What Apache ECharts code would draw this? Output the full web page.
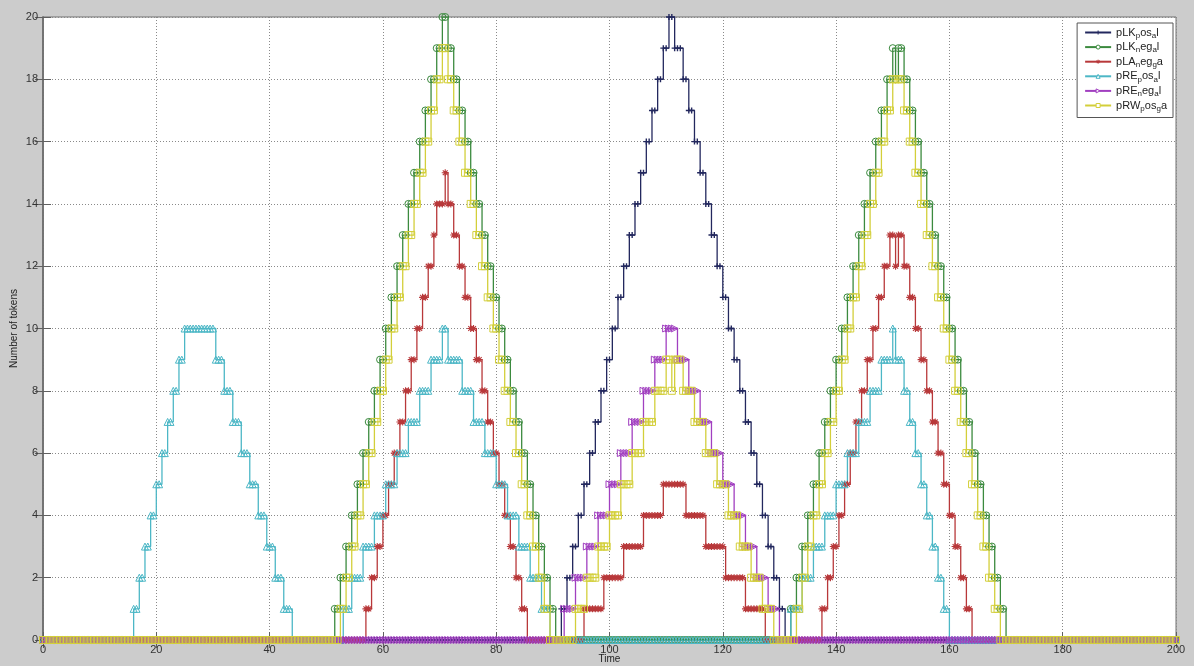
<!DOCTYPE html>
<html>
<head>
<meta charset="utf-8">
<script src="https://cdn.jsdelivr.net/npm/echarts@6.0.0/dist/echarts.min.js"></script>
<style>
  html, body { margin: 0; padding: 0; background: #cccccc; }
  #chart { width: 1194px; height: 666px; }
</style>
</head>
<body>
<div id="chart"></div>
<script>
// Token counts of each place over simulated time.
// Each list holds [time, tokens] change points; the count holds until the next change.
const timeStep = 0.5;
const timeEnd = 200;
const xTicks = { min: 0, max: 200, interval: 20 };
const yTicks = { min: 0, max: 20, interval: 2 };

const seriesNames = ['pLK_pos_al', 'pLK_neg_al', 'pLA_neg_ga', 'pRE_pos_al', 'pRE_neg_al', 'pRW_pos_ga'];

const pLKposChanges = [
  [0, 0],
  [91.5, 1], [92.5, 2], [93.5, 3], [94.5, 4], [95.5, 5], [96.5, 6], [97.5, 7], [98.5, 8], [99.5, 9], [100.5, 10],
  [101.5, 11], [102.5, 12], [103.5, 13], [104.5, 14], [105.5, 15], [106.5, 16], [107.5, 17], [108.5, 18], [109.5, 19], [110.5, 20],
  [111.5, 19], [113, 18], [114, 17], [115, 16], [116, 15], [117, 14], [118, 13], [119, 12], [120, 11], [121, 10],
  [122, 9], [123, 8], [124, 7], [125, 6], [126, 5], [127, 4], [128, 3], [129, 2], [130, 1], [131, 0]
];

const pLKnegChanges = [
  [0, 0],
  [51.5, 1], [52.5, 2], [53.5, 3], [54.5, 4], [55.5, 5], [56.5, 6], [57.5, 7], [58.5, 8], [59.5, 9], [60.5, 10],
  [61.5, 11], [62.5, 12], [63.5, 13], [64.5, 14], [65.5, 15], [66.5, 16], [67.5, 17], [68.5, 18], [69.5, 19], [70.5, 20],
  [71.5, 19], [72.5, 18], [73.5, 17], [74.5, 16], [75.5, 15], [76.5, 14], [77.5, 13], [78.5, 12], [79.5, 11], [80.5, 10],
  [81.5, 9], [82.5, 8], [83.5, 7], [84.5, 6], [85.5, 5], [86.5, 4], [87.5, 3], [88.5, 2], [89.5, 1], [90.5, 0],
  [132, 1], [133, 2], [134, 3], [135, 4], [136, 5], [137, 6], [138, 7], [139, 8], [140, 9], [141, 10],
  [142, 11], [143, 12], [144, 13], [145, 14], [146, 15], [147, 16], [148, 17], [149, 18], [150, 19], [150.5, 18], [151, 19],
  [152, 18], [153, 17], [154, 16], [155, 15], [156, 14], [157, 13], [158, 12], [159, 11], [160, 10],
  [161, 9], [162, 8], [163, 7], [164, 6], [165, 5], [166, 4], [167, 3], [168, 2], [169, 1], [170, 0]
];

const pLAnegChanges = [
  [0, 0],
  [57, 1], [58, 2], [59, 3], [60, 4], [61, 5], [62, 6], [63, 7], [64, 8], [65, 9], [66, 10],
  [67, 11], [68, 12], [69, 13], [69.5, 14], [71, 15], [71.5, 14], [72.5, 13], [73.5, 12], [74.5, 11], [75.5, 10],
  [76.5, 9], [77.5, 8], [78.5, 7], [79.5, 6], [80.5, 5], [81.5, 4], [82.5, 3], [83.5, 2], [84.5, 1], [85.5, 0],
  [95.5, 1], [99, 2], [102.5, 3], [106, 4], [109.5, 5], [113.5, 4], [117, 3], [120.5, 2], [124, 1], [127.5, 0],
  [137.5, 1], [138.5, 2], [139.5, 3], [140.5, 4], [141.5, 5], [142.5, 6], [143.5, 7], [144.5, 8], [145.5, 9], [146.5, 10],
  [147.5, 11], [148.5, 12], [149.5, 13], [150.5, 12], [151, 13], [152, 12], [153, 11], [154, 10],
  [155, 9], [156, 8], [157, 7], [158, 6], [159, 5], [160, 4], [161, 3], [162, 2], [163, 1], [164, 0]
];

const pREposChanges = [
  [0, 0],
  [16, 1], [17, 2], [18, 3], [19, 4], [20, 5], [21, 6], [22, 7], [23, 8], [24, 9], [25, 10],
  [30.5, 9], [32, 8], [33.5, 7], [35, 6], [36.5, 5], [38, 4], [39.5, 3], [41, 2], [42.5, 1], [44, 0],
  [53, 1], [54.5, 2], [56.5, 3], [58.5, 4], [60.5, 5], [62.5, 6], [64.5, 7], [66.5, 8], [68.5, 9], [70.5, 10],
  [71.5, 9], [74, 8], [76, 7], [78, 6], [80, 5], [82, 4], [84, 3], [86, 2], [88, 1], [89.5, 0],
  [132, 1], [134, 2], [136, 3], [138, 4], [140, 5], [142, 6], [144, 7], [146, 8], [148, 9], [150, 10],
  [150.5, 9], [152, 8], [153, 7], [154, 6], [155, 5], [156, 4], [157, 3], [158, 2], [159, 1], [160, 0]
];

const pREnegChanges = [
  [0, 0],
  [92, 1], [94, 2], [96, 3], [98, 4], [100, 5], [102, 6], [104, 7], [106, 8], [108, 9], [110, 10],
  [112, 9], [114, 8], [116, 7], [118, 6], [120, 5], [122, 4], [124, 3], [126, 2], [128, 1], [130, 0]
];

const pRWposChanges = [
  [0, 0],
  [52.5, 1], [53.5, 2], [54.5, 3], [55.5, 4], [56.5, 5], [57.5, 6], [58.5, 7], [59.5, 8], [60.5, 9], [61.5, 10],
  [62.5, 11], [63.5, 12], [64.5, 13], [65.5, 14], [66.5, 15], [67.5, 16], [68.5, 17], [69.5, 18], [70.5, 19],
  [71.5, 18], [72.5, 17], [73.5, 16], [74.5, 15], [75.5, 14], [76.5, 13], [77.5, 12], [78.5, 11], [79.5, 10],
  [80.5, 9], [81.5, 8], [82.5, 7], [83.5, 6], [84.5, 5], [85.5, 4], [86.5, 3], [87.5, 2], [88.5, 1], [89.5, 0],
  [94, 1], [96, 2], [98, 3], [100, 4], [102, 5], [104, 6], [106, 7], [108, 8], [110, 9], [111, 8], [111.5, 9],
  [113, 8], [115, 7], [117, 6], [119, 5], [121, 4], [123, 3], [125, 2], [127, 1], [129, 0],
  [133, 1], [134, 2], [135, 3], [136, 4], [137, 5], [138, 6], [139, 7], [140, 8], [141, 9], [142, 10],
  [143, 11], [144, 12], [145, 13], [146, 14], [147, 15], [148, 16], [149, 17], [150, 18],
  [152, 17], [153, 16], [154, 15], [155, 14], [156, 13], [157, 12], [158, 11], [159, 10],
  [160, 9], [161, 8], [162, 7], [163, 6], [164, 5], [165, 4], [166, 3], [167, 2], [168, 1], [169, 0]
];

// Expand change points into the simulator's sample grid (count held between changes).
function toSamples(changes) {
  const out = [];
  let j = 0, v = 0;
  const n = Math.round(timeEnd / timeStep);
  for (let i = 0; i <= n; i++) {
    const t = i * timeStep;
    while (j < changes.length && changes[j][0] <= t + 1e-9) { v = changes[j][1]; j++; }
    out.push([t, v]);
  }
  return out;
}

const markerPlus = 'path://M0,5L10,5M5,0L5,10';
const markerStar = 'path://M0,5L10,5M5,0L5,10M1.5,1.5L8.5,8.5M8.5,1.5L1.5,8.5';
const markerRight = 'path://M0,0L10,5L0,10Z';

const styles = [
  { data: pLKposChanges, color: '#23285e', symbol: markerPlus, size: 6, bw: 1.4, fill: '#23285e' },
  { data: pLKnegChanges, color: '#3b8a3e', symbol: 'circle', size: 7, bw: 1, fill: 'transparent' },
  { data: pLAnegChanges, color: '#b8383a', symbol: markerStar, size: 7, bw: 1.1, fill: '#b8383a' },
  { data: pREposChanges, color: '#4cb7c6', symbol: 'triangle', size: 7, bw: 1, fill: 'transparent' },
  { data: pREnegChanges, color: '#a13fc0', symbol: markerRight, size: 7, bw: 1, fill: 'transparent' },
  { data: pRWposChanges, color: '#d3cf3a', symbol: 'rect', size: 7, bw: 1, fill: 'transparent' }
];

const series = seriesNames.map((name, i) => {
  const s = styles[i];
  return {
    name: name,
    type: 'line',
    step: 'end',
    data: toSamples(s.data),
    symbol: s.symbol,
    symbolSize: s.size,
    showAllSymbol: true,
    lineStyle: { color: s.color, width: 1.3 },
    itemStyle: { color: s.fill, borderColor: s.color, borderWidth: s.bw },
    emphasis: { disabled: true },
    animation: false
  };
});

// Legend entries keep the hollow markers at a small size.
const legendItems = seriesNames.map((name, i) => ({
  name: name,
  itemStyle: { color: styles[i].fill === 'transparent' ? '#ffffff' : styles[i].fill, borderColor: styles[i].color, borderWidth: 1 }
}));

// Underscore marks the next character as a subscript, as in TeX labels.
function legendLabel(name) {
  let out = '';
  let buf = '';
  for (let i = 0; i < name.length; i++) {
    if (name[i] === '_' && i + 1 < name.length) {
      if (buf) { out += '{n|' + buf + '}'; buf = ''; }
      out += '{s|' + name[i + 1] + '}';
      i++;
    } else {
      buf += name[i];
    }
  }
  if (buf) out += '{n|' + buf + '}';
  return out;
}

const axisFont = 'Liberation Sans, Arial, sans-serif';
const frame = { show: true, lineStyle: { color: '#707070', width: 1.5 } };
const tick = { show: true, inside: true, length: 8, lineStyle: { color: '#606060', width: 1 } };

const chart = echarts.init(document.getElementById('chart'), null, { renderer: 'canvas' });
chart.setOption({
  backgroundColor: '#cccccc',
  animation: false,
  grid: {
    left: 43, right: 18, top: 17, bottom: 26,
    outerBoundsMode: 'none', containLabel: false,
    show: true, backgroundColor: '#ffffff', borderColor: '#707070', borderWidth: 1
  },
  xAxis: [
    {
      type: 'value', min: xTicks.min, max: xTicks.max, interval: xTicks.interval,
      name: 'Time', nameLocation: 'middle', nameGap: 14, nameMoveOverlap: false,
      nameTextStyle: { fontFamily: axisFont, fontSize: 10, color: '#222' },
      axisLine: frame, axisTick: tick,
      axisLabel: { fontFamily: axisFont, fontSize: 11, color: '#333', margin: 4 },
      splitLine: { show: true, lineStyle: { color: '#8a8a8a', type: [1, 2], width: 1 } }
    },
    {
      type: 'value', position: 'top', min: xTicks.min, max: xTicks.max, interval: xTicks.interval,
      axisLine: frame, axisTick: tick, axisLabel: { show: false }, splitLine: { show: false }
    }
  ],
  yAxis: [
    {
      type: 'value', min: yTicks.min, max: yTicks.max, interval: yTicks.interval,
      name: 'Number of tokens', nameLocation: 'middle', nameGap: 24, nameMoveOverlap: false,
      nameTextStyle: { fontFamily: axisFont, fontSize: 10, color: '#222' },
      axisLine: frame, axisTick: tick,
      axisLabel: { fontFamily: axisFont, fontSize: 11, color: '#333', margin: 5 },
      splitLine: { show: true, lineStyle: { color: '#8a8a8a', type: [1, 2], width: 1 } }
    },
    {
      type: 'value', position: 'right', min: yTicks.min, max: yTicks.max, interval: yTicks.interval,
      axisLine: frame, axisTick: tick, axisLabel: { show: false }, splitLine: { show: false }
    }
  ],
  legend: {
    data: legendItems,
    orient: 'vertical',
    right: 21,
    top: 23,
    backgroundColor: '#ffffff',
    borderColor: '#555',
    borderWidth: 1,
    padding: [4, 6, 5, 7],
    itemWidth: 26,
    itemHeight: 5,
    itemGap: 2.1,
    selectedMode: false,
    formatter: legendLabel,
    textStyle: {
      rich: {
        n: { fontFamily: axisFont, fontSize: 11, color: '#222', lineHeight: 14, verticalAlign: 'middle' },
        s: { fontFamily: axisFont, fontSize: 8, color: '#222', lineHeight: 14, verticalAlign: 'bottom' }
      }
    }
  },
  series: series
});
</script>
</body>
</html>
